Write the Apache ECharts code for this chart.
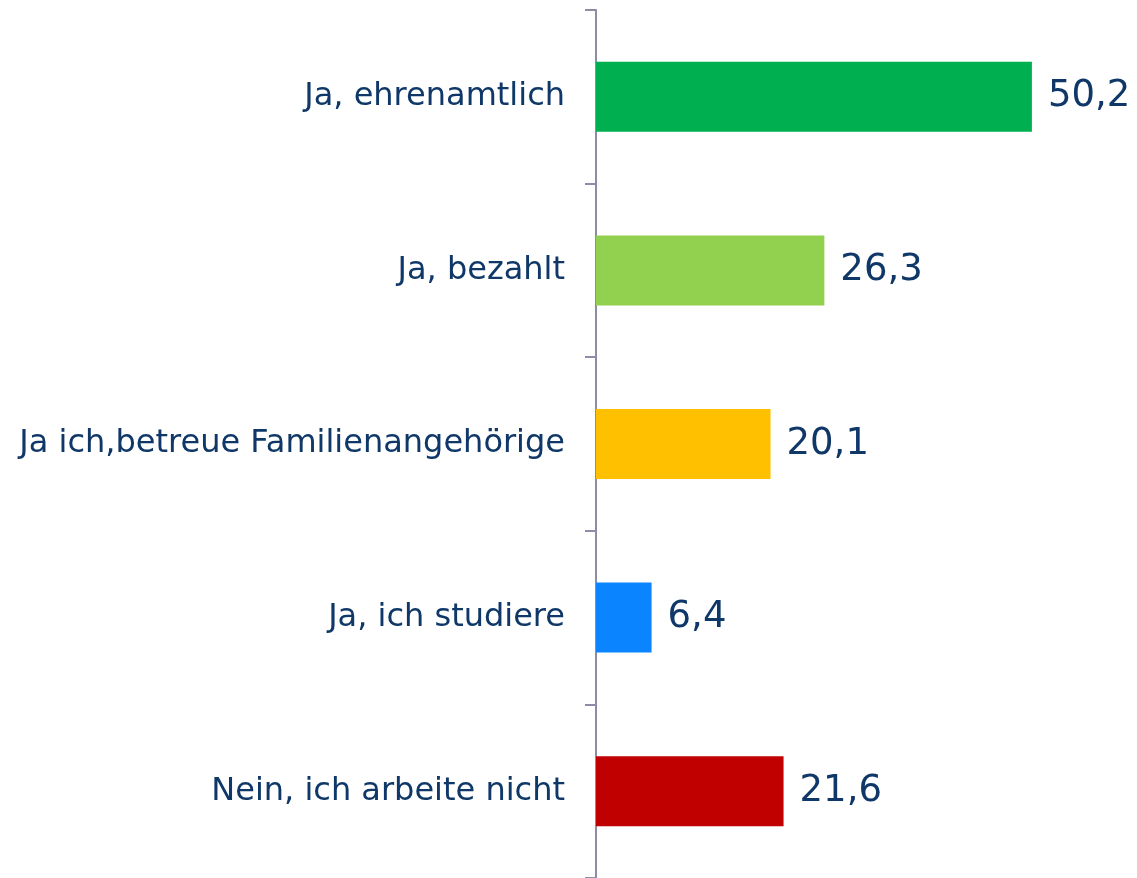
<!DOCTYPE html>
<html>
<head>
<meta charset="utf-8">
<script src="https://cdn.jsdelivr.net/npm/echarts@6/dist/echarts.min.js"></script>
<style>
	html, body { margin: 0; padding: 0; background: #fff; }
	#chart { width: 1137px; height: 878px; }
</style>
</head>
<body>
<div id="chart"></div>
<script>
// categories and values (top to bottom)
const categories = ['Ja, ehrenamtlich', 'Ja, bezahlt', 'Ja ich,betreue Familienangehörige', 'Ja, ich studiere', 'Nein, ich arbeite nicht'];
const values = [50.2, 26.3, 20.1, 6.4, 21.6];
const barColors = ['#00b050', '#92d050', '#ffc000', '#0a84ff', '#c00000'];

const textColor = '#0f3868';

let chart = echarts.init(document.getElementById('chart'));
chart.setOption({
	animation: false,
	grid: { left: 596, right: 20, top: 10, bottom: 0 },
	xAxis: {
		type: 'value',
		min: 0,
		max: 60,
		show: false
	},
	yAxis: {
		type: 'category',
		data: categories,
		inverse: true,
		axisLine: { lineStyle: { color: '#8c8ca6', width: 2 } },
		axisTick: { show: true, length: 11, lineStyle: { color: '#8c8ca6', width: 2 } },
		axisLabel: {
			color: textColor,
			fontSize: 32,
			fontFamily: 'DejaVu Sans',
			margin: 31
		}
	},
	series: [{
		type: 'bar',
		barWidth: 70,
		data: values.map((v, i) => ({ value: v, itemStyle: { color: barColors[i] } })),
		label: {
			show: true,
			position: 'right',
			distance: 16,
			color: textColor,
			fontSize: 37,
			fontFamily: 'DejaVu Sans',
			formatter: p => String(p.value).replace('.', ',')
		}
	}]
});
</script>
</body>
</html>
